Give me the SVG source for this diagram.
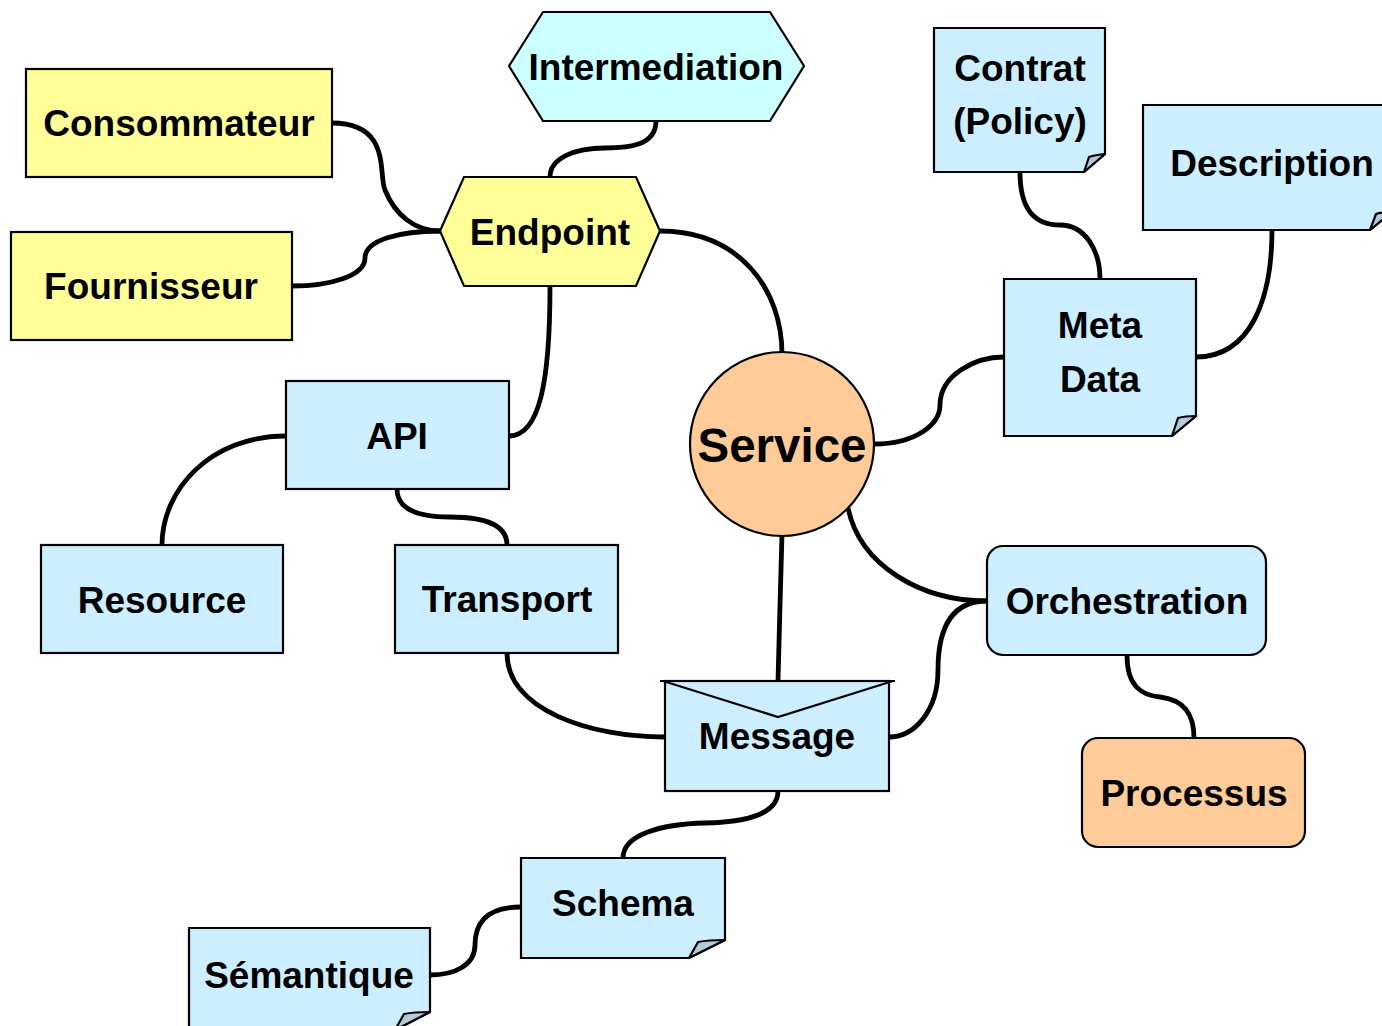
<svg xmlns="http://www.w3.org/2000/svg" width="1382" height="1026" viewBox="0 0 1382 1026">
<style>
.n{stroke:#000;stroke-width:2.2}
.b{fill:#cceeff}
.y{fill:#ffff99}
.c{fill:#ccffff}
.o{fill:#ffcc99}
.fold{fill:#b4cadb;stroke:#000;stroke-width:2.2;stroke-linejoin:round}
text{font-family:"Liberation Sans",Arial,sans-serif;font-weight:bold;font-size:37px;text-anchor:middle;fill:#000}
.conn path{fill:none;stroke:#000;stroke-width:4.8;stroke-linecap:round}
</style>
<rect width="1382" height="1026" fill="#fff"/>
<g class="conn" id="connectors">
<path d="M332,123 C392,123 378,175 385,190 C395,215 415,231 440,231"/>
<path d="M292,286 C330,286 365,276 365,258 C365,240 400,231 440,231"/>
<path d="M656,121 C656,145 630,148 605,148 C575,148 550,158 550,177"/>
<path d="M660,231 C740,231 782,290 782,354"/>
<path d="M550,286 C550,380 540,436 509,436"/>
<path d="M286,436 C210,436 162,490 162,545"/>
<path d="M397,489 C397,512 425,517 450,517 C485,517 507,525 507,545"/>
<path d="M507,653 C507,710 590,737 665,737"/>
<path d="M782,534 L780,605 L778,681"/>
<path d="M874,444 C915,444 940,425 940,405 C940,375 975,357 1004,357"/>
<path d="M1020,172 C1020,210 1035,225 1060,225 C1085,225 1100,250 1100,279"/>
<path d="M1272,230 C1272,300 1250,357 1196,357"/>
<path d="M848,508 C860,565 920,601 987,601"/>
<path d="M987,601 C950,601 938,630 938,670 C938,710 915,737 889,737"/>
<path d="M1127,655 C1127,685 1140,695 1160,697 C1185,700 1194,715 1194,738"/>
<path d="M778,791 C778,815 745,822 705,823 C660,824 623,835 623,858"/>
<path d="M521,907 C490,907 475,920 475,945 C475,965 455,975 430,975"/>
</g>
<g id="intermediation">
<polygon class="n c" points="509,66 543,12 770,12 804,66 770,121 543,121"/>
<text x="656" y="80">Intermediation</text>
</g>
<g id="consommateur">
<rect class="n y" x="26" y="69" width="306" height="108"/>
<text x="179" y="136">Consommateur</text>
</g>
<g id="fournisseur">
<rect class="n y" x="11" y="232" width="281" height="108"/>
<text x="151" y="299">Fournisseur</text>
</g>
<g id="endpoint">
<polygon class="n y" points="440,231 464,177 636,177 660,231 636,286 464,286"/>
<text x="550" y="245">Endpoint</text>
</g>
<g id="contrat">
<path class="n b" d="M934,28 H1105 V154 L1084,172 H934 Z"/>
<path class="fold" d="M1084,172 L1089,157 Q1095,155 1105,154 Z"/>
<text x="1020" y="81">Contrat</text>
<text x="1020" y="134">(Policy)</text>
</g>
<g id="description">
<path class="n b" d="M1143,105 H1392 V212 L1370,230 H1143 Z"/>
<path class="fold" d="M1370,230 L1376,214 Q1382,212 1392,212 Z"/>
<text x="1272" y="176">Description</text>
</g>
<g id="metadata">
<path class="n b" d="M1004,279 H1196 V416 L1172,436 H1004 Z"/>
<path class="fold" d="M1172,436 L1178,418 Q1185,416 1196,416 Z"/>
<text x="1100" y="338">Meta</text>
<text x="1100" y="392">Data</text>
</g>
<g id="api">
<rect class="n b" x="286" y="381" width="223" height="108"/>
<text x="397" y="449">API</text>
</g>
<g id="service">
<circle class="n o" cx="782" cy="444" r="92"/>
<text x="782" y="462" style="font-size:47.5px">Service</text>
</g>
<g id="resource">
<rect class="n b" x="41" y="545" width="242" height="108"/>
<text x="162" y="613">Resource</text>
</g>
<g id="transport">
<rect class="n b" x="395" y="545" width="223" height="108"/>
<text x="507" y="612">Transport</text>
</g>
<g id="orchestration">
<rect class="n b" x="987" y="546" width="279" height="109" rx="16"/>
<text x="1127" y="614">Orchestration</text>
</g>
<g id="processus">
<rect class="n o" x="1082" y="738" width="223" height="109" rx="16"/>
<text x="1194" y="806">Processus</text>
</g>
<g id="message">
<rect class="n b" x="665" y="681" width="224" height="110"/>
<path d="M660,681 H895 M663,681 L778,717 L893,681" fill="none" stroke="#000" stroke-width="2.2"/>
<text x="777" y="749">Message</text>
</g>
<g id="schema">
<path class="n b" d="M521,858 H725 V940 L689,958 H521 Z"/>
<path class="fold" d="M689,958 L698,942 Q708,940 725,940 Z"/>
<text x="623" y="916">Schema</text>
</g>
<g id="semantique">
<path class="n b" d="M189,928 H430 V1012 L395,1030 H189 Z"/>
<path class="fold" d="M395,1030 L404,1014 Q414,1012 430,1012 Z"/>
<text x="309" y="988">Sémantique</text>
</g>
</svg>
